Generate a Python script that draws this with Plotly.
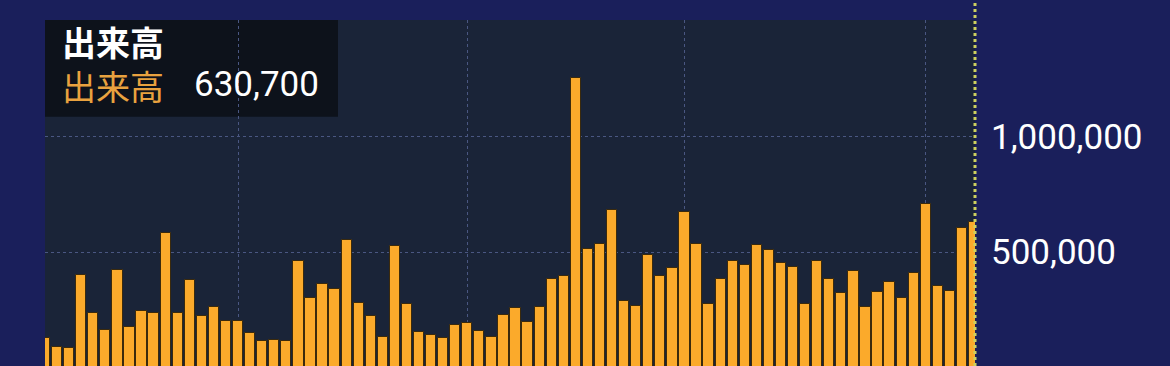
import plotly.graph_objects as go

# ---- data ----
volume = [
    130000, 89000, 85000, 402000, 238000, 163000, 422000, 177000, 246000, 235000,
    583000, 237000, 378000, 225000, 262000, 202000, 202000, 150000, 114000, 120000,
    118000, 460000, 301000, 363000, 343000, 555000, 281000, 226000, 134000, 526000,
    275000, 156000, 143000, 127000, 186000, 195000, 160000, 134000, 228000, 257000,
    199000, 264000, 384000, 397000, 1253000, 516000, 536000, 683000, 291000, 268000,
    487000, 397000, 432000, 675000, 535000, 278000, 386000, 461000, 443000, 531000,
    510000, 454000, 434000, 278000, 464000, 385000, 324000, 420000, 264000, 326000,
    373000, 301000, 411000, 708000, 352000, 333000, 606000, 630700,
]
days = list(range(len(volume)))
month_starts = [16, 35, 53, 73]
y_tick_vals = [500000, 1000000, 1500000]
y_tick_text = ["500,000", "1,000,000", ""]
legend_title = "出来高"
series_name = "出来高"
last_value_text = f"{volume[-1]:,}"

# ---- style ----
W, H = 1170, 366
ML, MR, MT, MB = 45, 195, 20, 0
x_range = [0, 77.08]
y_range = [7875, 1504325]
NAVY = "#1a1f5b"
PLOT_BG = "#1a2438"
BOX = "#0d121b"
GRID = "#4a5782"
BAR = "#fbaa2b"
BAR_EDGE = "#3b2a0c"
ORANGE_TXT = "#e9a23f"
CROSS = "#cdd060"

fig = go.Figure()
fig.add_trace(go.Bar(
    x=days, y=volume, width=0.85,
    marker=dict(color=BAR, line=dict(color=BAR_EDGE, width=1)),
    hoverinfo="skip", showlegend=False,
))

plot_h = H - MT - MB
def py(p):
    return 1 - (p - MT) / plot_h
def px(p):
    return (p - ML) / (W - ML - MR)

shapes = [
    dict(type="rect", xref="paper", yref="paper", x0=0, x1=px(338), y0=py(116.7), y1=1,
         fillcolor=BOX, line=dict(width=0), layer="below"),
    dict(type="line", xref="paper", yref="paper",
         x0=px(975), x1=px(975),
         y0=0, y1=1 + MT / plot_h,
         line=dict(color=CROSS, width=3, dash="dot")),
]

annotations = [
    dict(xref="paper", yref="paper", x=px(60), y=py(63), xanchor="left", yanchor="middle",
         align="left",
         text=f"<b>{legend_title}</b><br><span style='color:{ORANGE_TXT}'>{series_name}</span>",
         showarrow=False,
         font=dict(family="Noto Sans CJK JP", size=34, color="#ffffff")),
    dict(xref="paper", yref="paper", x=px(192), y=py(84), xanchor="left", yanchor="middle",
         text=last_value_text, showarrow=False,
         font=dict(family="Roboto", size=35, color="#ffffff")),
]

fig.update_layout(
    width=W, height=H,
    margin=dict(l=ML, r=MR, t=MT, b=MB, pad=0),
    paper_bgcolor=NAVY, plot_bgcolor=PLOT_BG,
    bargap=0, shapes=shapes, annotations=annotations,
    xaxis=dict(range=x_range, tickvals=month_starts, showticklabels=False, ticks="",
               showgrid=True, gridcolor=GRID, griddash="dot", gridwidth=1,
               zeroline=False, showline=False, fixedrange=True),
    yaxis=dict(range=y_range, side="right", tickvals=y_tick_vals, ticktext=y_tick_text,
               showgrid=True, gridcolor=GRID, griddash="dot", gridwidth=1,
               zeroline=False, showline=False, ticks="", ticklabelstandoff=15,
               tickfont=dict(family="Roboto", size=35, color="#ffffff"), fixedrange=True),
    font=dict(family="Roboto"),
)

fig.write_html("out.html", config={"displayModeBar": False})
